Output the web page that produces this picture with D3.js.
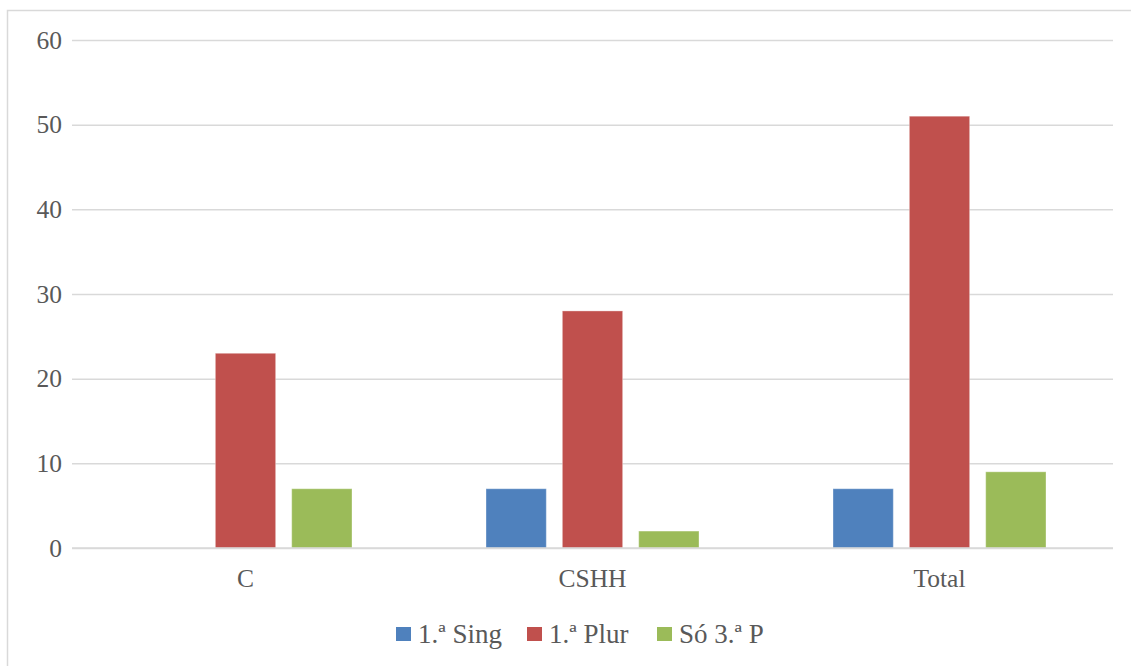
<!DOCTYPE html>
<html>
<head>
<meta charset="utf-8">
<script src="https://cdn.jsdelivr.net/npm/d3@7"></script>
<style>
  html, body { margin: 0; padding: 0; background: #fff; }
  svg { display: block; }
  text { font-family: "Liberation Serif", "DejaVu Serif", serif; fill: #595959; }
</style>
</head>
<body>
<svg id="chart" width="1131" height="666"></svg>
<script>
const categories = ["C", "CSHH", "Total"];
const seriesNames = ["1.ª Sing", "1.ª Plur", "Só 3.ª P"];
const sing = [0, 7, 7];
const plur = [23, 28, 51];
const so3 = [7, 2, 9];
const yTicks = [0, 10, 20, 30, 40, 50, 60];
const colors = ["#4F81BD", "#C0504D", "#9BBB59"];

(function () {
const seriesValues = [sing, plur, so3];
const svg = d3.select("#chart");
const W = 1131, H = 666;
const mLeft = 72, mRight = 1113, mTop = 40, mBottom = 548;
const fs = 25.5;

// outer chart border
svg.append("rect")
  .attr("x", 7.5).attr("y", 10.5)
  .attr("width", W + 10).attr("height", H + 10)
  .attr("fill", "#fff").attr("stroke", "#d9d9d9").attr("stroke-width", 1.5);

const y = d3.scaleLinear().domain([0, 60]).range([mBottom, mTop]);
const x0 = d3.scaleBand().domain(categories).range([mLeft, mRight]).padding(0);
const groupPad = 67;
const x1 = d3.scaleBand().domain(seriesNames)
  .range([groupPad, x0.bandwidth() - groupPad]).paddingInner(0.21).paddingOuter(0);

// gridlines
const yAxis = d3.axisLeft(y).tickValues(yTicks).tickSize(-(mRight - mLeft)).tickPadding(10);
const gy = svg.append("g").attr("transform", `translate(${mLeft},0)`).call(yAxis);
gy.select(".domain").remove();
gy.selectAll(".tick line").attr("stroke", "#d9d9d9").attr("stroke-width", 1.5);
gy.selectAll(".tick text").attr("font-size", fs).attr("x", -10)
  .style("font-family", '"Liberation Serif", serif').attr("fill", "#595959");

// bars
const groups = svg.append("g").selectAll("g").data(categories).join("g")
  .attr("transform", d => `translate(${x0(d)},0)`);
groups.selectAll("rect")
  .data((c, ci) => seriesNames.map((s, si) => ({ s, v: seriesValues[si][ci], si })))
  .join("rect")
  .attr("x", d => x1(d.s))
  .attr("y", d => y(d.v))
  .attr("width", x1.bandwidth())
  .attr("height", d => y(0) - y(d.v))
  .attr("fill", d => colors[d.si])
  .attr("stroke", "#fff").attr("stroke-opacity", 0.35).attr("stroke-width", 1);

// baseline
svg.append("line").attr("x1", mLeft).attr("x2", mRight)
  .attr("y1", mBottom).attr("y2", mBottom)
  .attr("stroke", "#d9d9d9").attr("stroke-width", 1.5);

// x axis labels
const xAxis = d3.axisBottom(x0).tickSize(0).tickPadding(21);
const gx = svg.append("g").attr("transform", `translate(0,${mBottom})`).call(xAxis);
gx.select(".domain").remove();
gx.selectAll(".tick text").attr("font-size", fs)
  .style("font-family", '"Liberation Serif", serif').attr("fill", "#595959");

// legend
const legendX = [396, 527, 657];
const legend = svg.append("g");
seriesNames.forEach((s, i) => {
  const g = legend.append("g").attr("transform", `translate(${legendX[i]},634)`);
  g.append("rect").attr("x", 0).attr("y", -7).attr("width", 15).attr("height", 14).attr("fill", colors[i]);
  g.append("text").attr("x", 22).attr("y", 0).attr("dy", "0.34em")
    .attr("font-size", 27).text(s);
});
})();
</script>
</body>
</html>
